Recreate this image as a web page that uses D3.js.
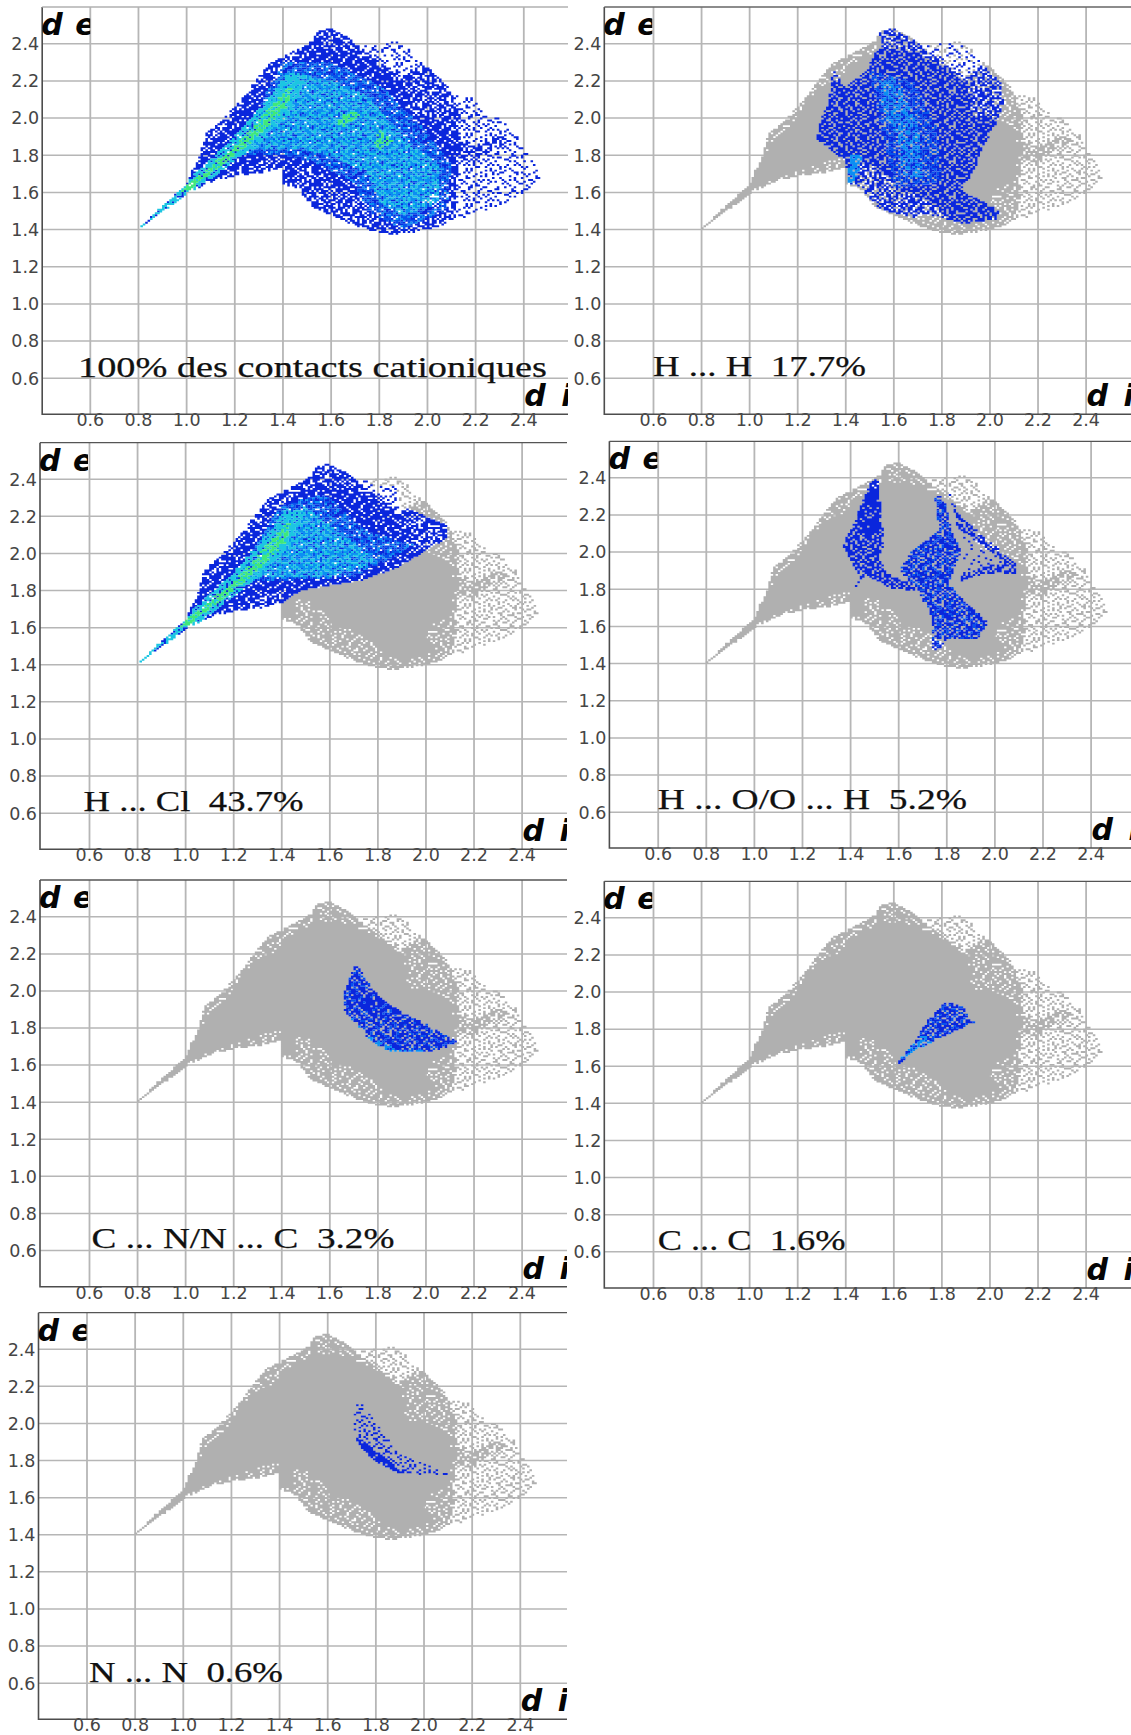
<!DOCTYPE html>
<html><head><meta charset="utf-8">
<script src="https://cdn.jsdelivr.net/npm/d3@7"></script>
<style>
html,body{margin:0;padding:0;background:#fff;}
svg{display:block;}
.tick text{font-family:"DejaVu Sans",sans-serif;font-size:17.5px;fill:#454545;}
.lab{font-family:"Liberation Serif",serif;font-size:30px;fill:#111;stroke:#111;stroke-width:0.25px;white-space:pre;}
.ax{font-family:"DejaVu Sans",sans-serif;font-weight:bold;font-style:italic;font-size:30px;fill:#050505;}
</style></head><body>
<script>
// ---- Axis values ----
const diTicks=[0.6,0.8,1.0,1.2,1.4,1.6,1.8,2.0,2.2,2.4];
const deTicks=[0.6,0.8,1.0,1.2,1.4,1.6,1.8,2.0,2.2,2.4];
const panelLabels=["100% des contacts cationiques","H ... H  17.7%","H ... Cl  43.7%","H ... O/O ... H  5.2%","C ... N/N ... C  3.2%","C ... C  1.6%","N ... N  0.6%"];

// ---- Region outlines [di, de], estimated by eye from the reference.
// The individual surface points cannot be read, so each region is binned at 0.01
// and its density is suggested with the hand-typed speckleTile below (texture only).
const cloudOutline=[[0.80,1.40],[0.99,1.64],[1.05,1.77],[1.08,1.91],[1.14,1.97],[1.20,2.04],[1.26,2.15],[1.30,2.22],[1.34,2.29],[1.38,2.27],[1.42,2.34],[1.44,2.36],[1.48,2.39],[1.52,2.415],[1.55,2.47],[1.60,2.48],[1.65,2.45],[1.69,2.415],[1.72,2.38],[1.80,2.40],[1.86,2.415],[1.92,2.38],[1.98,2.29],[2.06,2.21],[2.11,2.13],[2.19,2.12],[2.23,2.04],[2.29,2.00],[2.37,1.93],[2.41,1.82],[2.44,1.77],[2.47,1.67],[2.40,1.59],[2.34,1.55],[2.28,1.52],[2.19,1.48],[2.07,1.42],[1.97,1.39],[1.88,1.37],[1.80,1.38],[1.70,1.42],[1.59,1.48],[1.52,1.52],[1.46,1.62],[1.41,1.64],[1.40,1.73],[1.35,1.71],[1.23,1.69],[1.12,1.66],[1.03,1.61]];
const speckledOutline=[[0.80,1.40],[1.00,1.64],[1.05,1.77],[1.08,1.91],[1.14,1.97],[1.26,2.15],[1.34,2.29],[1.42,2.34],[1.52,2.41],[1.55,2.47],[1.60,2.48],[1.65,2.45],[1.70,2.40],[1.78,2.32],[1.90,2.22],[1.98,2.29],[2.06,2.21],[2.10,2.13],[2.14,2.00],[2.14,1.78],[2.12,1.65],[2.12,1.50],[2.07,1.42],[1.97,1.39],[1.88,1.37],[1.80,1.38],[1.70,1.42],[1.59,1.48],[1.52,1.52],[1.46,1.62],[1.40,1.64],[1.40,1.73],[1.35,1.71],[1.23,1.69],[1.12,1.66],[1.03,1.61]];
const denseOutline=[[0.80,1.40],[1.00,1.64],[1.05,1.77],[1.10,1.88],[1.18,1.97],[1.25,2.10],[1.32,2.18],[1.40,2.22],[1.45,2.30],[1.55,2.38],[1.68,2.36],[1.78,2.30],[1.90,2.20],[1.92,2.10],[1.90,2.02],[2.00,2.00],[2.10,1.95],[2.12,1.78],[2.10,1.65],[2.02,1.62],[2.00,1.55],[2.04,1.47],[1.98,1.44],[1.90,1.42],[1.82,1.46],[1.75,1.55],[1.62,1.62],[1.55,1.72],[1.46,1.76],[1.46,1.66],[1.40,1.64],[1.40,1.78],[1.30,1.76],[1.23,1.72],[1.12,1.68],[1.03,1.62]];
const lowerRing=[[1.46,1.62],[1.52,1.52],[1.59,1.48],[1.70,1.42],[1.76,1.40],[1.76,1.55],[1.62,1.65],[1.50,1.72],[1.46,1.72]];
const lowerRight=[[2.03,1.62],[2.03,1.47],[2.12,1.47],[2.13,1.64]];
const streakOutline=[[2.12,1.78],[2.20,1.76],[2.36,1.88],[2.30,1.90],[2.20,1.84],[2.12,1.88]];
const spineCore=[[0.98,1.60],[1.00,1.63],[1.22,1.87],[1.38,2.10],[1.44,2.18],[1.42,2.06],[1.25,1.84],[1.03,1.62]];
const spineWide=[[0.80,1.40],[0.98,1.63],[1.18,1.87],[1.34,2.10],[1.42,2.24],[1.50,2.22],[1.44,2.04],[1.28,1.84],[1.05,1.62]];
const spotA=[[1.62,1.97],[1.67,2.04],[1.72,2.02],[1.66,1.95]];
const spotB=[[1.78,1.86],[1.80,1.93],[1.86,1.87],[1.80,1.83]];
const allCore=[[1.25,1.83],[1.42,2.25],[1.60,2.20],[1.75,2.12],[1.90,1.90],[2.05,1.75],[2.05,1.55],[1.90,1.47],[1.80,1.55],[1.75,1.70],[1.60,1.80],[1.45,1.83]];
const allMid=[[1.20,1.80],[1.40,2.30],[1.60,2.30],[1.80,2.18],[1.98,1.95],[2.10,1.75],[2.08,1.50],[1.90,1.40],[1.75,1.50],[1.70,1.65],[1.55,1.75],[1.40,1.80]];
const hclOutline=[[0.70,1.30],[0.80,1.45],[1.00,1.80],[1.20,2.20],[1.50,2.60],[1.70,2.46],[1.78,2.36],[1.88,2.36],[1.90,2.25],[2.09,2.15],[2.09,2.08],[1.89,1.926],[1.74,1.854],[1.485,1.80],[1.40,1.73],[1.30,1.60],[1.00,1.50]];
const hclCore=[[1.27,1.87],[1.42,2.20],[1.50,2.25],[1.65,2.10],[1.80,1.95],[1.60,1.87]];
const hclMid=[[1.20,1.84],[1.40,2.26],[1.58,2.32],[1.75,2.12],[1.96,2.04],[1.70,1.87]];
const hhOutline=[[1.543,2.47],[1.60,2.49],[1.677,2.42],[1.74,2.42],[1.863,2.42],[1.967,2.29],[2.05,2.185],[2.057,2.08],[2.03,1.97],[1.97,1.84],[1.94,1.72],[1.88,1.61],[1.94,1.57],[2.04,1.50],[2.03,1.45],[1.89,1.43],[1.74,1.48],[1.67,1.46],[1.55,1.50],[1.46,1.63],[1.416,1.645],[1.40,1.77],[1.33,1.83],[1.28,1.89],[1.30,1.99],[1.33,2.09],[1.35,2.26],[1.40,2.16],[1.505,2.27],[1.505,2.32],[1.55,2.38]];
const hhCore=[[1.54,2.20],[1.60,2.22],[1.70,1.98],[1.72,1.68],[1.64,1.68],[1.62,1.90],[1.56,2.02]];
const hhMid=[[1.50,2.25],[1.68,2.20],[1.78,1.95],[1.80,1.65],[1.60,1.62],[1.55,1.95]];
const hhEdge=[[1.41,1.65],[1.45,1.66],[1.47,1.80],[1.42,1.80]];
const hoLeftTop=[[1.493,2.40],[1.515,2.385],[1.535,2.10],[1.41,2.10],[1.435,2.22]];
const hoLeft=[[1.493,2.40],[1.515,2.385],[1.53,2.22],[1.54,2.04],[1.52,1.955],[1.575,1.865],[1.66,1.83],[1.67,1.79],[1.58,1.80],[1.46,1.87],[1.41,1.79],[1.44,1.865],[1.366,2.04],[1.41,2.13],[1.435,2.22]];
const hoRight=[[1.753,2.295],[1.77,2.12],[1.65,1.99],[1.605,1.90],[1.67,1.81],[1.74,1.65],[1.74,1.47],[1.77,1.47],[1.80,1.53],[1.93,1.53],[1.975,1.62],[1.87,1.74],[1.81,1.83],[1.86,2.00],[1.82,2.12],[1.79,2.30]];
const hoStrand=[[1.798,2.36],[1.857,2.19],[2.095,1.93],[2.09,1.88],[1.96,1.88],[1.86,1.84],[1.86,1.87],[1.96,1.92],[2.05,1.94],[1.85,2.12]];
const hoInner=[[1.86,2.12],[2.06,1.93],[1.96,1.92],[1.86,1.87]];
const cnOutline=[[1.704,2.13],[1.73,2.12],[1.74,2.075],[1.82,1.95],[1.91,1.877],[2.00,1.82],[2.13,1.725],[2.09,1.695],[2.00,1.665],[1.86,1.665],[1.77,1.73],[1.70,1.84],[1.66,1.895],[1.66,1.985]];
const cnBright=[[1.66,1.90],[1.68,1.86],[1.78,1.74],[1.88,1.68],[2.00,1.68],[1.98,1.665],[1.86,1.665],[1.77,1.73],[1.70,1.84]];
const cnHollow=[[1.71,2.06],[1.76,2.03],[1.85,1.90],[1.95,1.83],[1.90,1.78],[1.78,1.86],[1.70,1.95]];
const ccOutline=[[1.618,1.62],[1.684,1.72],[1.744,1.846],[1.82,1.945],[1.893,1.918],[1.915,1.846],[1.945,1.837],[1.803,1.756],[1.684,1.684],[1.63,1.61]];
const ccTail=[[1.618,1.62],[1.684,1.72],[1.72,1.78],[1.76,1.72],[1.684,1.684],[1.63,1.61]];
const nnSparse=[[1.72,2.13],[1.78,2.05],[1.84,1.94],[1.90,1.83],[2.00,1.78],[2.12,1.72],[2.00,1.72],[1.90,1.74],[1.80,1.83],[1.72,1.92],[1.71,2.00]];
const nnBand=[[1.72,1.925],[1.81,1.85],[1.90,1.745],[1.955,1.73],[1.90,1.725],[1.79,1.80],[1.726,1.89]];

// ---- Hand-typed speckle tile: digit below a layer's gap lets the layer beneath show ----
const speckleTile=[
"70492815637048291650374918260","25816073942617385029461730584","91364207581943620785192436071","48027596130582749163058274916",
"63591840276319507428613905274","10748362951724863091576248301","87235016497058162934708153629","34960728513496207581346092875",
"52187409631875034692517840396","06493251874260917348062519743","79318640259136784025793164802","41750923686503291876140527396",
"28064179352947016853289461507","96312850746081539267403718265","15789034628753142690857321049","60427198353619804712536094178",
"83951462071048627359181746230","37206815949725130864672095813","04618739256381954027346182597"];
const blue="#0a26dc",blue2="#0652ec",blue3="#0b8ff2",cyan="#1cc6e2",green="#3fe87a",grey="#b0b0b0",hole="#ffffff";

// ---- Layout (pixels) ----
const frames=[
 {l:42.2,r:568,t:7,b:414.3,x0:89.8,x1:523.3,y0:377.7,y1:43.3,xl:420,tc:"#b0b0b0"},
 {l:604.3,r:1131,t:7,b:414.3,x0:653,x1:1085.6,y0:377.7,y1:43.3,xl:420,tc:"#666"},
 {l:40,r:567,t:442.7,b:849.3,x0:89,x1:521.6,y0:812.7,y1:478.7,xl:855,tc:"#555"},
 {l:609.4,r:1131,t:441.3,b:848,x0:657.7,x1:1090.6,y0:811.7,y1:477.3,xl:854,tc:"#555"},
 {l:40,r:567,t:880,b:1286.7,x0:89,x1:521.6,y0:1250,y1:916.3,xl:1293,tc:"#555"},
 {l:604.3,r:1131,t:881.3,b:1288,x0:653,x1:1085.6,y0:1251.3,y1:917.3,xl:1294,tc:"#555"},
 {l:38.5,r:567,t:1312.7,b:1719.3,x0:86.5,x1:519.8,y0:1682.7,y1:1348.7,xl:1725,tc:"#555"}];
const labelBoxes=[[78,547,377],[653,866,376],[83.6,303.5,810.7],[657.7,967,809],[91.6,394.4,1248],[657.7,845.5,1250],[89,283,1682]];

const baseLayers=[[denseOutline,0],[streakOutline,3],[lowerRing,4],[lowerRight,5],[speckledOutline,2],[cloudOutline,7]];
const overlays=[
 [[spineCore,green,4],[spotA,green,4],[spotB,green,5],[spineWide,cyan,3],[allCore,cyan,7],[allCore,blue3,4],[allMid,blue3,8],[allMid,blue2,5],[cloudOutline,hole,8]],
 [[hhEdge,blue3,3],[hhCore,blue3,6],[hhMid,blue2,6],[hhOutline,blue,3]],
 [[spineCore,green,4],[spineWide,cyan,3],[hclCore,cyan,7],[hclCore,blue3,4],[hclMid,blue3,8],[hclMid,blue2,5],[hclOutline,hole,8],[hclOutline,blue,0]],
 [[hoRight,blue2,8],[hoRight,blue,3],[hoLeftTop,blue,5],[hoLeft,blue,3],[hoStrand,blue,4],[hoInner,blue,9]],
 [[cnBright,blue3,5],[cnHollow,blue,7],[cnOutline,blue2,8],[cnOutline,blue,3]],
 [[ccTail,blue3,6],[ccOutline,blue2,8],[ccOutline,blue,3]],
 [[nnBand,blue,1],[nnSparse,blue,7]]];
const baseColors=[blue,grey,grey,grey,grey,grey,grey];

const svg=d3.select("body").append("svg").attr("width",1131).attr("height",1735);
svg.append("rect").attr("width",1131).attr("height",1735).attr("fill","#fff");
const tile=(i,j,k)=>+speckleTile[(j+k*7)%19][(i+k*11)%29];

frames.forEach((f,p)=>{
  const x=d3.scaleLinear().domain([0.6,2.4]).range([f.x0,f.x1]);
  const y=d3.scaleLinear().domain([0.6,2.4]).range([f.y0,f.y1]);
  const g=svg.append("g");
  const cid="c"+p;
  g.append("clipPath").attr("id",cid).append("rect").attr("x",f.l).attr("y",f.t-20).attr("width",f.r-f.l).attr("height",f.b-f.t+60);
  const eid="e"+p;
  g.append("clipPath").attr("id",eid).append("rect").attr("x",f.l).attr("y",f.t).attr("width",48).attr("height",40);

  // grid + ticks via axes
  const gx=g.append("g").attr("transform",`translate(0,${f.t})`)
    .call(d3.axisBottom(x).tickValues(diTicks).tickSize(f.b-f.t).tickPadding(0).tickFormat(d3.format(".1f")));
  gx.select(".domain").remove();
  gx.selectAll("line").attr("stroke","#b6b6b6").attr("stroke-width",1.8);
  gx.selectAll("text").attr("y",f.xl-f.t).attr("dy","0.36em");
  const gy=g.append("g").attr("transform",`translate(${f.l},0)`)
    .call(d3.axisRight(y).tickValues(deTicks).tickSize(f.r-f.l).tickFormat(d3.format(".1f")));
  gy.select(".domain").remove();
  gy.selectAll("line").attr("stroke","#b6b6b6").attr("stroke-width",1.5);
  gy.selectAll("text").attr("x",-3).attr("text-anchor","end").attr("dy","0.36em");

  // binned cells, one path per colour
  const paths=new Map();
  const w=Math.abs(x(0.61)-x(0.6)), h=Math.abs(y(0.61)-y(0.6));
  for(let i=78;i<=250;i++)for(let j=134;j<=250;j++){
    const c=[i/100+0.005,j/100+0.005];
    let inBase=false;
    for(const [o,gap] of baseLayers){
      if(d3.polygonContains(o,c)&&tile(i,j,0)>=gap){inBase=true;break;}
    }
    if(!inBase)continue;
    let col=baseColors[p];
    const ov=overlays[p];
    for(let k=0;k<ov.length;k++){
      const [o,cc,gap]=ov[k];
      if(d3.polygonContains(o,c)&&tile(i,j,k+1)>=gap){col=cc;break;}
    }
    if(col===hole)continue;
    const px=x(i/100),py=y((j+1)/100);
    let s=paths.get(col)||"";
    s+=`M${px.toFixed(2)} ${py.toFixed(2)}h${(w+0.12).toFixed(2)}v${(h+0.12).toFixed(2)}h${(-w-0.12).toFixed(2)}z`;
    paths.set(col,s);
  }
  const order=[grey,blue,blue2,blue3,cyan,green];
  const cg=g.append("g").attr("clip-path",`url(#${cid})`).style("filter","blur(0.35px)");
  order.forEach(c=>{if(paths.has(c))cg.append("path").attr("d",paths.get(c)).attr("fill",c);});

  // frame
  g.append("path").attr("d",d3.line()([[f.l,f.t],[f.l,f.b],[f.r,f.b]])).attr("fill","none").attr("stroke","#4d4d4d").attr("stroke-width",1.6);
  g.append("line").attr("x1",f.l).attr("x2",f.r).attr("y1",f.t).attr("y2",f.t).attr("stroke",f.tc).attr("stroke-width",1.3);

  // panel caption
  const b=labelBoxes[p];
  g.append("text").attr("class","lab").attr("x",b[0]).attr("y",b[2])
    .attr("textLength",b[1]-b[0]).attr("lengthAdjust","spacingAndGlyphs").text(panelLabels[p]);

  // axis names, clipped by the plot edge as in the reference
  const ax=g.append("g").attr("clip-path",`url(#${cid})`);
  ax.append("text").attr("class","ax").attr("x",f.l-1).attr("y",f.t+28).text("d");
  g.append("text").attr("class","ax").attr("clip-path",`url(#${eid})`).attr("x",f.l+33).attr("y",f.t+28).text("e");
  ax.append("text").attr("class","ax").attr("x",x(2.4)+1).attr("y",f.b-8).text("d");
  ax.append("text").attr("class","ax").attr("x",x(2.4)+38).attr("y",f.b-8).text("i");
});
</script>
</body></html>
